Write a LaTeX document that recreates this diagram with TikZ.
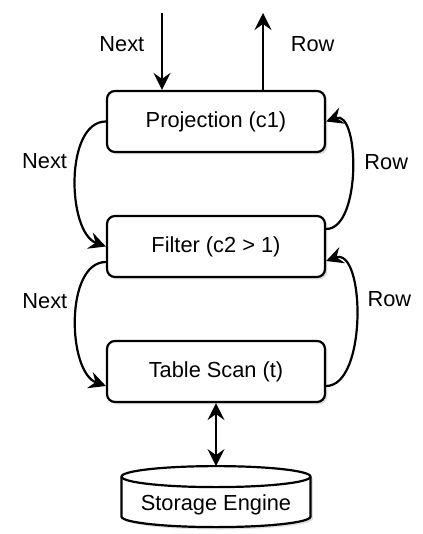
\documentclass[tikz,border=0pt]{standalone}
\usepackage{fontspec}
\setmainfont{Liberation Sans}
\usetikzlibrary{arrows.meta,shadows,positioning}

\begin{document}
\begin{tikzpicture}[x=0.5pt,y=0.5pt]
\tikzstyle{lbl}=[font=\fontsize{10.9}{13}\selectfont]
\tikzstyle{shade}=[drop shadow={opacity=0.25, shadow xshift=1.2pt, shadow yshift=-1.2pt}]
\tikzstyle{op}=[rectangle, rounded corners=4pt, draw=black, line width=1.1pt, fill=white, minimum width=109pt, minimum height=30.5pt, lbl, shade, node distance=62.5pt]
\tikzstyle{store}=[rectangle, inner sep=0pt, lbl]
\tikzstyle{drum}=[line width=1.1pt, x radius=47.25pt, y radius=5.25pt]
\tikzstyle{connect}=[-{Stealth[length=8.5pt, width=8.5pt, inset=3pt]}, line width=1.1pt]
\tikzstyle{both}=[{Stealth[length=8.5pt, width=8.5pt, inset=3pt]}-{Stealth[length=8.5pt, width=8.5pt, inset=3pt]}, line width=1.1pt]

  \useasboundingbox (0,0) rectangle (422,-534);

  \node[op] (proj) at (216,-121.5) {Projection (c1)};
  \node[op] (filt) [below of=proj] {Filter (c2 > 1)};
  \node[op] (tscan) [below of=filt] {Table Scan (t)};

  % storage cylinder, text sits in its body
  \coordinate (dtop) at ([yshift=-36.75pt]tscan.south);
  \path[draw=black, fill=white, drum, shade]
    ([xshift=-47.25pt]dtop) -- ++(0,-20pt) arc[start angle=180, end angle=360]
    -- ++(0,20pt) arc[start angle=0, end angle=180] -- cycle;
  \draw[drum] ([xshift=-47.25pt]dtop) arc[start angle=180, end angle=360];
  \node[store] (eng) at ([yshift=-14.25pt]dtop) {Storage Engine};

  \coordinate (nextin) at (162,-13);
  \coordinate (rowout) at (263,-13);

  % calls going down, rows coming back up
  \draw[connect] (nextin) -- (nextin |- proj.north) node[lbl, pos=0.4, left=5pt] {Next};
  \draw[connect] (rowout |- proj.north) -- (rowout) node[lbl, pos=0.6, right=10pt] {Row};

  \draw[connect] (proj.west) to[out=180, in=160, looseness=0.85] node[lbl, pos=0.4, left=1pt] {Next} (filt.west);
  \draw[connect] ([yshift=-7.75pt]filt.west) to[out=180, in=160, looseness=0.85] node[lbl, pos=0.4, left=1pt] {Next} ([yshift=-7.25pt]tscan.west);
  \draw[connect] ([yshift=8.75pt]filt.east) to[out=0, in=20, looseness=0.85] node[lbl, pos=0.55, right=2.5pt] {Row} (proj.east);
  \draw[connect] ([yshift=-7.25pt]tscan.east) to[out=0, in=20, looseness=0.85] node[lbl, pos=0.6, right=2.5pt] {Row} ([yshift=-7.25pt]filt.east);

  \draw[both] (tscan.south) -- ([yshift=5.25pt]dtop);

\end{tikzpicture}
\end{document}
